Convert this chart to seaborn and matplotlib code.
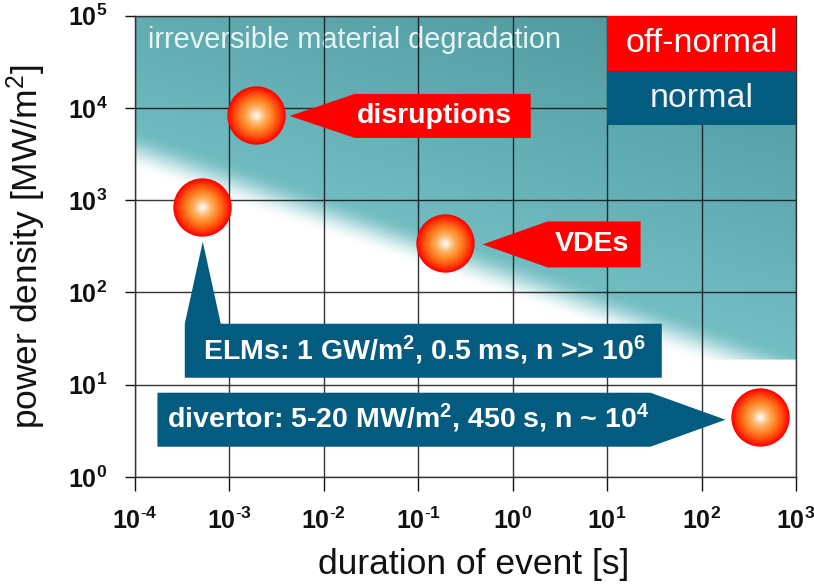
import numpy as np
import pandas as pd
import matplotlib
matplotlib.use("Agg")
import matplotlib.pyplot as plt
import matplotlib.transforms as mtransforms
from matplotlib.patches import Polygon, Rectangle
from matplotlib.colors import LinearSegmentedColormap, to_rgb
import seaborn as sns

# ---- event data -----------------------------------------------------------
event_names = ["disruptions", "ELMs", "VDEs", "divertor"]
event_duration = [1.9e-3, 5.1e-4, 0.19, 420.0]      # s
event_power = [8.4e3, 8.5e2, 3.4e2, 4.5]             # MW/m^2
event_kind = ["off-normal", "normal", "off-normal", "normal"]

# ---- irreversible damage threshold -----------------------------------------
threshold_duration = [1e-4, 1e3]
threshold_power = [2.1e3, 7.6]
threshold_floor = 18.6

# ---- axes ---------------------------------------------------------------
x_exponents = [-4, -3, -2, -1, 0, 1, 2, 3]
y_exponents = [0, 1, 2, 3, 4, 5]

# ---- callout labels -------------------------------------------------------
callout_text = {
    "disruptions": "disruptions",
    "VDEs": "VDEs",
    "ELMs": r"ELMs: 1 GW/m$^{\mathbf{2}}$, 0.5 ms, n >> 10$^{\mathbf{6}}$",
    "divertor": r"divertor: 5-20 MW/m$^{\mathbf{2}}$, 450 s, n ~ 10$^{\mathbf{4}}$",
}

RED = "#ff0000"
BLUE = "#035b80"
TEAL_LIGHT = np.array(to_rgb("#74c0c5"))
TEAL_DARK = np.array(to_rgb("#4a949a"))

sns.set_theme(style="white")
plt.rcParams["font.family"] = ["Liberation Sans", "DejaVu Sans"]
plt.rcParams["mathtext.fontset"] = "custom"
plt.rcParams["mathtext.rm"] = "Liberation Sans"
plt.rcParams["mathtext.bf"] = "Liberation Sans:bold"
plt.rcParams["mathtext.it"] = "Liberation Sans:italic"

fig = plt.figure(figsize=(8.14, 5.88), dpi=100, facecolor="white")
ax = fig.add_axes([0.1658, 0.1888, 0.8121, 0.7845])
ax.set_xscale("log")
ax.set_yscale("log")
xlim = (10.0 ** x_exponents[0], 10.0 ** x_exponents[-1])
ylim = (10.0 ** y_exponents[0], 10.0 ** y_exponents[-1])
ax.set_xlim(*xlim)
ax.set_ylim(*ylim)

# ---- teal "irreversible degradation" region ---------------------------------
nu, nv = 700, 480
u = np.linspace(0, 1, nu)
v = np.linspace(0, 1, nv)
U, V = np.meshgrid(u, v)
lx = np.log10(xlim[0]) + U * (np.log10(xlim[1]) - np.log10(xlim[0]))
ly = np.log10(ylim[0]) + V * (np.log10(ylim[1]) - np.log10(ylim[0]))
tx = np.log10(threshold_duration)
ty = np.log10(threshold_power)
slope = (ty[1] - ty[0]) / (tx[1] - tx[0])
ly_edge = ty[0] + (lx - tx[0]) * slope
fade = np.clip((ly - ly_edge) / 0.44, 0, 1)
fade = fade * fade * (3 - 2 * fade)
fade[ly < np.log10(threshold_floor)] = 0
shade = np.clip(0.55 * U + 1.3 * V - 0.85, 0, 1)[..., None]
rgb = TEAL_LIGHT * (1 - shade) + TEAL_DARK * shade
rgba = np.dstack([rgb, fade])
ax.imshow(rgba, extent=[0, 1, 0, 1], transform=ax.transAxes, origin="lower",
          aspect="auto", interpolation="bilinear", zorder=0.2)
ax.set_xlim(*xlim)
ax.set_ylim(*ylim)

ax.text(0.0197, 0.930, "irreversible material degradation", transform=ax.transAxes,
        fontsize=20.8, color="#e9f5f5", ha="left", va="baseline", zorder=0.3)

# ---- grid, ticks, labels --------------------------------------------------
ax.set_axisbelow(True)
ax.grid(True, which="major", color="#111111", linewidth=1.0, alpha=0.85)
ax.set_xticks([10.0 ** e for e in x_exponents])
ax.set_yticks([10.0 ** e for e in y_exponents])
ax.minorticks_off()


def power_label(e):
    if e < 0:
        return r"$\mathbf{10^{\text{-}%d}}$" % (-e)
    return r"$\mathbf{10^{%d}}$" % e


ax.set_xticklabels([power_label(e) for e in x_exponents])
ax.set_yticklabels([power_label(e) for e in y_exponents])
ax.tick_params(axis="x", direction="out", length=10, width=1, pad=12,
               labelsize=18, colors="#111111", bottom=True)
ax.tick_params(axis="y", direction="out", length=7, width=1, pad=13,
               labelsize=18, colors="#111111", left=True)
for side in ["left", "right", "top", "bottom"]:
    ax.spines[side].set_color("#333333")
    ax.spines[side].set_linewidth(1.0)

# ---- legend boxes -----------------------------------------------------------
ax.add_patch(Rectangle((0.714, 0.880), 0.286, 0.120, transform=ax.transAxes,
                       facecolor=RED, edgecolor="none", zorder=3))
ax.add_patch(Rectangle((0.714, 0.763), 0.286, 0.117, transform=ax.transAxes,
                       facecolor=BLUE, edgecolor="none", zorder=3))
ax.text(0.857, 0.940, "off-normal", transform=ax.transAxes, fontsize=24.5,
        color="white", ha="center", va="center", zorder=3.5)
ax.text(0.857, 0.8215, "normal", transform=ax.transAxes, fontsize=24.5,
        color="#f0f4f6", ha="center", va="center", zorder=3.5)

# ---- spheres ----------------------------------------------------------------
events = pd.DataFrame({"name": event_names, "duration": event_duration,
                       "power": event_power, "kind": event_kind})
sphere_cmap = LinearSegmentedColormap.from_list(
    "sphere", [(0.0, "#ffffff"), (0.08, "#ffeedd"), (0.3, "#ffb466"),
               (0.55, "#ff8322"), (0.8, "#ff420a"), (1.0, "#ff0000")])
n_layers = 45
diam_pt = 42.0
for k in range(n_layers):
    f = 1.0 - k / n_layers
    sns.scatterplot(data=events, x="duration", y="power", s=(diam_pt * f) ** 2,
                    color=sphere_cmap(f), linewidth=0, ax=ax, legend=False,
                    zorder=6 + k * 0.001)

# ---- callouts (geometry in 1/100 inch relative to each event) ---------------
callout_shapes = {
    "disruptions": dict(poly=[(34, -1), (99, 21), (275, 21), (275, -23), (99, -23)],
                        text=(179, -1), color=RED),
    "VDEs": dict(poly=[(38, -1), (103, 22), (196, 22), (196, -24), (103, -24)],
                 text=(147, -1), color=RED),
    "ELMs": dict(poly=[(1, -35), (19, -117), (460, -117), (460, -171),
                       (-17, -171), (-17, -117)],
                 text=(223, -144), color=BLUE),
    "divertor": dict(poly=[(-603, 24), (-110, 24), (-35, -3), (-110, -30), (-603, -30)],
                     text=(-352, -2), color=BLUE),
}

for _, row in events.iterrows():
    spec = callout_shapes[row["name"]]
    trans = fig.dpi_scale_trans + mtransforms.ScaledTranslation(
        row["duration"], row["power"], ax.transData)
    pts = np.array(spec["poly"], dtype=float) / 100.0
    ax.add_patch(Polygon(pts, closed=True, transform=trans, facecolor=spec["color"],
                         edgecolor="none", zorder=4, clip_on=False))
    tx_, ty_ = np.array(spec["text"]) / 100.0
    ax.text(tx_, ty_, callout_text[row["name"]], transform=trans, fontsize=20.5,
            fontweight="bold", color="white", ha="center", va="center", zorder=4.5)

ax.set_xlabel("duration of event [s]", fontsize=25.5, color="#111111", labelpad=10)
ax.xaxis.label.set_x(0.513)
ax.set_ylabel("power density [MW/m$^2$]", fontsize=25.5, color="#111111", labelpad=14)

fig.savefig("out.png", dpi=100, facecolor="white")
